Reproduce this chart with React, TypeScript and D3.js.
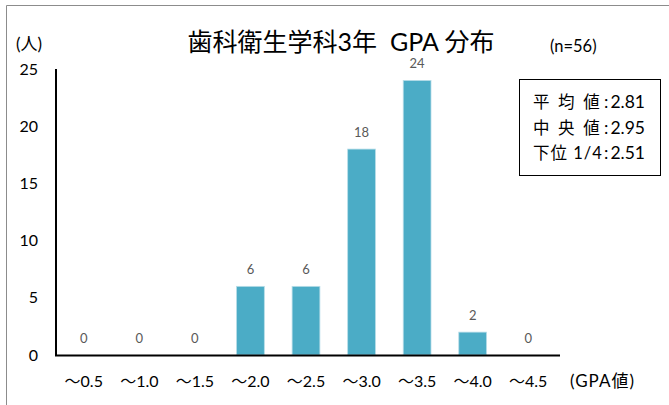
import React from "react";
import * as d3 from "d3";

const categories = ["～0.5", "～1.0", "～1.5", "～2.0", "～2.5", "～3.0", "～3.5", "～4.0", "～4.5"];
const counts = [0, 0, 0, 6, 6, 18, 24, 2, 0];
const yTicks = [0, 5, 10, 15, 20, 25];
const statsLabels = ["平 均 値", "中 央 値", "下位 1/4"];
const statsValues = ["2.81", "2.95", "2.51"];
const title = "歯科衛生学科3年  GPA 分布";

const W = 669;
const H = 405;
const FONT = "Lato, 'Noto Sans CJK JP', sans-serif";

export default function App() {
  const x = d3.scaleBand<string>().domain(categories).range([56, 556]).paddingInner(0.5).paddingOuter(0.25);
  const y = d3.scaleLinear().domain([0, 25]).range([355, 69]);

  return (
    <svg width={W} height={H} style={{ position: "absolute", left: 0, top: 0, fontFamily: FONT }}>
      <rect x={0} y={0} width={W} height={H} fill="#fff" />
      <line x1={6.5} y1={5.5} x2={W} y2={5.5} stroke="#8c8c8c" strokeWidth={1} />
      <line x1={6.5} y1={5.5} x2={6.5} y2={H} stroke="#8c8c8c" strokeWidth={1} />

      <text x={341} y={51} textAnchor="middle" fontSize={25} fill="#000" style={{ whiteSpace: "pre" }}>{title}</text>
      <text x={16} y={50} fontSize={17} fill="#000">(人)</text>
      <text x={550} y={52} fontSize={16.5} fill="#000">(n=56)</text>

      {yTicks.map((t) => (
        <text key={t} x={38} y={y(t)} dy="0.35em" textAnchor="end" fontSize={16} fill="#000">{t}</text>
      ))}

      {categories.map((c, i) => (
        <g key={c}>
          {counts[i] > 0 && (
            <rect x={x(c)!} y={y(counts[i])} width={x.bandwidth()} height={y(0) - y(counts[i])}
              fill="#4BACC6" stroke="#b7dde8" strokeWidth={0.8} />
          )}
          <text x={x(c)! + x.bandwidth() / 2} y={y(counts[i]) - 12} textAnchor="middle" fontSize={13} fill="#595959">{counts[i]}</text>
          <text x={x(c)! + x.bandwidth() / 2} y={381} dy="0.35em" textAnchor="middle" fontSize={16} fill="#000">{c}</text>
        </g>
      ))}

      <line x1={56} y1={69} x2={56} y2={356} stroke="#000" strokeWidth={2} />
      <line x1={55} y1={355.5} x2={560} y2={355.5} stroke="#000" strokeWidth={2} />

      <text x={570} y={381} dy="0.35em" fontSize={17} letterSpacing={1} fill="#000">(GPA値)</text>

      <rect x={519.5} y={79.5} width={141} height={96} fill="#fff" stroke="#000" strokeWidth={1} />
      {statsLabels.map((s, i) => (
        <g key={s}>
          <text x={533} y={108 + i * 25.5} fontSize={16.5} letterSpacing={i < 2 ? 2.2 : 1} fill="#000" style={{ whiteSpace: "pre" }}>{s}</text>
          <text x={604} y={108 + i * 25.5} fontSize={17.5} fill="#000" style={{ whiteSpace: "pre" }}>:<tspan dx={2}>{statsValues[i]}</tspan></text>
        </g>
      ))}
    </svg>
  );
}
